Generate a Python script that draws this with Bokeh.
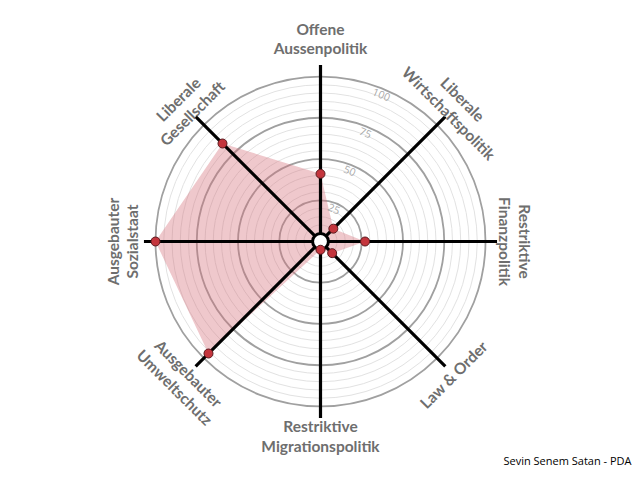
import numpy as np
from bokeh.plotting import figure
from bokeh.models import Label, ColumnDataSource
from bokeh.core.properties import value
from bokeh.embed import file_html
from bokeh.resources import INLINE

# ---- data ----
categories = ["Offene\nAussenpolitik", "Liberale\nWirtschaftspolitik", "Restriktive\nFinanzpolitik",
              "Law & Order", "Restriktive\nMigrationspolitik", "Ausgebauter\nUmweltschutz",
              "Ausgebauter\nSozialstaat", "Liberale\nGesellschaft"]
scores = [41, 11, 27, 10, 5, 96, 100, 84]
major_rings = [25, 50, 75, 100]
minor_rings = [5, 10, 15, 20, 30, 35, 40, 45, 55, 60, 65, 70, 80, 85, 90, 95]
ring_labels = ["25", "50", "75", "100"]
author = "Sevin Senem Satan - PDA"

# ---- layout / style ----
PX = 1.65            # pixels per score unit
W, H = 640, 480
CX, CY = 320, 241    # centre in pixels from top-left
AXIS_LEN = 107
HOLE = 4.8
label_radius = [123, 116, 118, 114, 118, 119, 120, 116]
label_rot = [0, -45, -90, 45, 0, -45, 90, 45]

p = figure(width=W, height=H,
           x_range=(-CX / PX, (W - CX) / PX),
           y_range=(-(H - CY) / PX, CY / PX),
           output_backend="svg", toolbar_location=None, min_border=0)
p.axis.visible = False
p.grid.visible = False
p.outline_line_color = None
p.background_fill_color = "white"

n = len(categories)
theta = np.deg2rad(90 - np.arange(n) * 360 / n)

# rings
p.circle(x=[0] * len(minor_rings), y=[0] * len(minor_rings), radius=minor_rings,
         fill_color=None, line_color="#e2e2e2", line_width=1)
p.circle(x=[0] * len(major_rings), y=[0] * len(major_rings), radius=major_rings,
         fill_color=None, line_color="#a0a0a0", line_width=1.8)

# polygon
sc = np.array(scores, dtype=float)
px = sc * np.cos(theta)
py = sc * np.sin(theta)
p.patch(x=list(px), y=list(py), fill_color="#d66e78", fill_alpha=0.38, line_color=None)

# axes
p.segment(x0=list(HOLE * np.cos(theta)), y0=list(HOLE * np.sin(theta)),
          x1=list(AXIS_LEN * np.cos(theta)), y1=list(AXIS_LEN * np.sin(theta)),
          line_color="black", line_width=3.2)

# centre hole
p.circle(x=[0], y=[0], radius=HOLE, fill_color="white", line_color="black", line_width=3)

# points
p.scatter(x=list(px), y=list(py), size=9, fill_color="#c4353d", line_color="#5a1a1e", line_width=1)

# ring labels
ta = np.deg2rad(67.5)
rl = np.array(major_rings, dtype=float) - 3.5
p.text(x=list(rl * np.cos(ta)), y=list(rl * np.sin(ta)), text=ring_labels,
       angle=np.deg2rad(-22.5), text_align="center", text_baseline="middle",
       text_color="#a8a8a8", text_font_size="10.5px", text_font=value("Open Sans"))

# category labels
lr = np.array(label_radius, dtype=float)
src = ColumnDataSource(dict(x=list(lr * np.cos(theta)), y=list(lr * np.sin(theta)),
                            text=categories, angle=list(np.deg2rad(label_rot))))
p.text(x="x", y="y", text="text", angle="angle", source=src,
       text_align="center", text_baseline="middle", text_color="#6e6e6e",
       text_font_size="15.5px", text_font=value("Lato"), text_font_style="bold",
       text_line_height=1.1)

p.add_layout(Label(x=503, y=20, x_units="screen", y_units="screen", text=author,
                   text_font_size="11px", text_font="Open Sans", text_color="black",
                   text_baseline="middle"))

open("out.html", "w").write(file_html(p, INLINE))
